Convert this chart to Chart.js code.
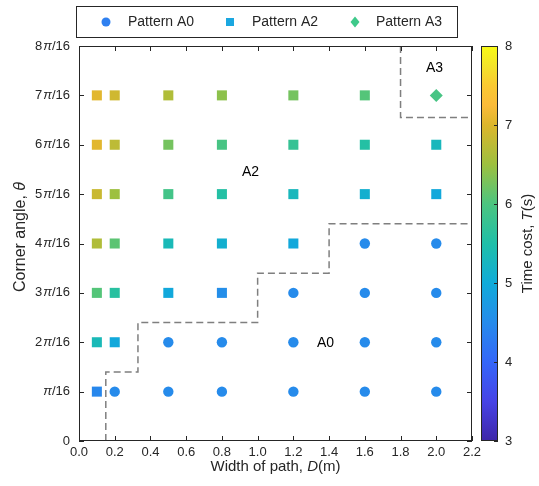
<!DOCTYPE html>
<html>
<head>
<meta charset="utf-8">
<script src="https://cdn.jsdelivr.net/npm/chart.js@4.4.1/dist/chart.umd.min.js"></script>
<style>
  html, body { margin: 0; padding: 0; background: #fff; }
</style>
</head>
<body>
<canvas id="chart" width="539" height="486"></canvas>
<script>
// widths D (m), angles in units of pi/16, time cost T (s)
const a0Width = [0.2, 0.5, 0.8, 1.2, 1.6, 2.0, 0.5, 0.8, 1.2, 1.6, 2.0, 1.2, 1.6, 2.0, 1.6, 2.0];
const a0Angle = [1, 1, 1, 1, 1, 1, 2, 2, 2, 2, 2, 3, 3, 3, 4, 4];
const a0Time  = [4.5, 4.5, 4.5, 4.5, 4.5, 4.5, 4.5, 4.5, 4.5, 4.5, 4.5, 4.5, 4.5, 4.5, 4.5, 4.5];

const a2Width = [0.1,
                 0.1, 0.2,
                 0.1, 0.2, 0.5, 0.8,
                 0.1, 0.2, 0.5, 0.8, 1.2,
                 0.1, 0.2, 0.5, 0.8, 1.2, 1.6, 2.0,
                 0.1, 0.2, 0.5, 0.8, 1.2, 1.6, 2.0,
                 0.1, 0.2, 0.5, 0.8, 1.2, 1.6];
const a2Angle = [1,
                 2, 2,
                 3, 3, 3, 3,
                 4, 4, 4, 4, 4,
                 5, 5, 5, 5, 5, 5, 5,
                 6, 6, 6, 6, 6, 6, 6,
                 7, 7, 7, 7, 7, 7];
const a2Time  = [4.45,
                 5.35, 4.95,
                 6.05, 5.6, 4.95, 4.55,
                 6.65, 6.1, 5.35, 5.1, 4.95,
                 6.85, 6.5, 5.9, 5.55, 5.3, 5.1, 4.95,
                 7.05, 6.75, 6.25, 5.95, 5.75, 5.55, 5.3,
                 7.05, 6.9, 6.65, 6.4, 6.25, 6.05];

const a3Width = [2.0];
const a3Angle = [7];
const a3Time  = [5.95];

// region boundaries
const lowerBoundW = [0.15, 0.15, 0.33, 0.33, 1.0, 1.0, 1.4, 1.4, 2.2];
const lowerBoundA = [0, 1.4, 1.4, 2.4, 2.4, 3.4, 3.4, 4.4, 4.4];
const upperBoundW = [1.8, 1.8, 2.2];
const upperBoundA = [8, 6.55, 6.55];

const regionNames = ['A2', 'A0', 'A3'];
const regionW = [0.96, 1.38, 1.99];
const regionA = [5.45, 1.98, 7.56];

const yTickLabels = ['0', 'π/16', '2π/16', '3π/16', '4π/16', '5π/16', '6π/16', '7π/16', '8π/16'];
const cbTicks = [3, 4, 5, 6, 7, 8];
const cbMin = 3, cbMax = 8;

const legendNames = ['Pattern A0', 'Pattern A2', 'Pattern A3'];
const legendColors = ['#2f80f0', '#1ba7e0', '#3ec98a'];

const FONT = '"Liberation Sans", Arial, Helvetica, sans-serif';
const INK = '#262626';

// parula-like colormap
const parula = [
  [0.00, '#3e26a8'], [0.10, '#4743e6'], [0.20, '#3466f9'], [0.30, '#268beb'],
  [0.40, '#10abd9'], [0.50, '#1fbfa8'], [0.60, '#4cc580'], [0.70, '#9dc03f'],
  [0.80, '#dcb62c'], [0.85, '#fbbb3a'], [0.90, '#fac932'], [0.95, '#f3e42a'],
  [1.00, '#f9fb15']
];
function hexRgb(h) { return [1, 3, 5].map(i => parseInt(h.substr(i, 2), 16)); }
function colorFor(T) {
  const t = Math.min(1, Math.max(0, (T - cbMin) / (cbMax - cbMin)));
  for (let i = 1; i < parula.length; i++) {
    if (t <= parula[i][0]) {
      const [t0, c0] = parula[i - 1], [t1, c1] = parula[i];
      const f = (t - t0) / (t1 - t0);
      const a = hexRgb(c0), b = hexRgb(c1);
      return 'rgb(' + a.map((v, k) => Math.round(v + (b[k] - v) * f)).join(',') + ')';
    }
  }
  return parula[parula.length - 1][1];
}

const pts = (w, a) => w.map((x, i) => ({ x: x, y: a[i] }));

function richText(ctx, parts, x, y, size) {
  let total = 0;
  const widths = parts.map(p => {
    ctx.font = (p[1] ? 'italic ' : '') + size + 'px ' + FONT;
    const w = ctx.measureText(p[0]).width;
    total += w;
    return w;
  });
  let cx = x - total / 2;
  ctx.textAlign = 'left';
  parts.forEach((p, i) => {
    ctx.font = (p[1] ? 'italic ' : '') + size + 'px ' + FONT;
    ctx.fillText(p[0], cx, y);
    cx += widths[i];
  });
}

const decorations = {
  id: 'decorations',
  afterDatasetsDraw(chart) {
    const ctx = chart.ctx, a = chart.chartArea;
    const xs = chart.scales.x, ys = chart.scales.y;
    ctx.save();
    // region labels
    ctx.fillStyle = '#000';
    ctx.font = '14px ' + FONT;
    ctx.textAlign = 'center';
    ctx.textBaseline = 'middle';
    regionNames.forEach((n, i) => {
      ctx.fillText(n, xs.getPixelForValue(regionW[i]), ys.getPixelForValue(regionA[i]));
    });
    // frame
    ctx.strokeStyle = INK;
    ctx.lineWidth = 1;
    ctx.strokeRect(a.left + 0.5, a.top + 0.5, a.right - a.left - 1, a.bottom - a.top - 1);
    // inward ticks
    ctx.beginPath();
    xs.ticks.forEach(t => {
      const px = Math.round(xs.getPixelForValue(t.value)) + 0.5;
      ctx.moveTo(px, a.bottom); ctx.lineTo(px, a.bottom - 5);
      ctx.moveTo(px, a.top); ctx.lineTo(px, a.top + 5);
    });
    ys.ticks.forEach(t => {
      const py = Math.round(ys.getPixelForValue(t.value)) + 0.5;
      ctx.moveTo(a.left, py); ctx.lineTo(a.left + 5, py);
      ctx.moveTo(a.right, py); ctx.lineTo(a.right - 5, py);
    });
    ctx.stroke();
    // y tick labels with italic pi
    ctx.fillStyle = INK;
    ctx.textBaseline = 'middle';
    yTickLabels.forEach((lab, v) => {
      const py = ys.getPixelForValue(v);
      const parts = lab.split('π');
      let x = a.left - 9;
      ctx.textAlign = 'right';
      for (let k = parts.length - 1; k >= 0; k--) {
        ctx.font = '13px ' + FONT;
        ctx.fillText(parts[k], x, py);
        x -= ctx.measureText(parts[k]).width;
        if (k > 0) {
          ctx.font = 'italic 13px ' + FONT;
          ctx.fillText('π', x, py);
          x -= ctx.measureText('π').width + 1;
        }
      }
    });
    ctx.restore();
  },
  afterDraw(chart) {
    const ctx = chart.ctx, a = chart.chartArea;
    ctx.save();
    ctx.fillStyle = INK;
    ctx.textBaseline = 'alphabetic';
    // axis titles
    richText(ctx, [['Width of path, ', false], ['D', true], ['(m)', false]], (a.left + a.right) / 2, 471, 15);
    ctx.save();
    ctx.translate(25, 237);
    ctx.rotate(-Math.PI / 2);
    richText(ctx, [['Corner angle, ', false], ['θ', true]], 0, 0, 16);
    ctx.restore();

    // colorbar
    const cbL = 481, cbR = 498, cbT = a.top, cbB = a.bottom;
    const g = ctx.createLinearGradient(0, cbB, 0, cbT);
    parula.forEach(s => g.addColorStop(s[0], s[1]));
    ctx.fillStyle = g;
    ctx.fillRect(cbL, cbT, cbR - cbL, cbB - cbT);
    ctx.strokeStyle = INK;
    ctx.lineWidth = 1;
    ctx.strokeRect(cbL + 0.5, cbT + 0.5, cbR - cbL - 1, cbB - cbT - 1);
    ctx.fillStyle = INK;
    ctx.font = '13px ' + FONT;
    ctx.textAlign = 'left';
    ctx.textBaseline = 'middle';
    ctx.beginPath();
    cbTicks.forEach(v => {
      const py = cbB - (v - cbMin) / (cbMax - cbMin) * (cbB - cbT);
      ctx.moveTo(cbR, Math.round(py) + 0.5); ctx.lineTo(cbR - 4, Math.round(py) + 0.5);
      ctx.fillText(String(v), 505, py);
    });
    ctx.stroke();
    ctx.save();
    ctx.translate(532, (cbT + cbB) / 2);
    ctx.rotate(-Math.PI / 2);
    ctx.textBaseline = 'alphabetic';
    richText(ctx, [['Time cost, ', false], ['T', true], ['(s)', false]], 0, 0, 15);
    ctx.restore();

    // legend box
    ctx.fillStyle = '#fff';
    ctx.fillRect(76, 6, 381, 31);
    ctx.strokeStyle = INK;
    ctx.strokeRect(76.5, 6.5, 381, 31);
    const ly = 22;
    const markX = [106, 230, 355];
    const textX = [128, 252, 376];
    legendNames.forEach((n, i) => {
      ctx.fillStyle = legendColors[i];
      ctx.beginPath();
      if (i === 0) ctx.arc(markX[i], ly, 4.5, 0, Math.PI * 2);
      else if (i === 1) ctx.rect(markX[i] - 4, ly - 4, 8, 8);
      else { ctx.moveTo(markX[i], ly - 5.5); ctx.lineTo(markX[i] + 4.5, ly); ctx.lineTo(markX[i], ly + 5.5); ctx.lineTo(markX[i] - 4.5, ly); ctx.closePath(); }
      ctx.fill();
      ctx.fillStyle = INK;
      ctx.font = '14px ' + FONT;
      ctx.textAlign = 'left';
      ctx.textBaseline = 'middle';
      ctx.fillText(n, textX[i], ly);
    });
    ctx.restore();
  }
};

const a0Colors = a0Time.map(colorFor);
const a2Colors = a2Time.map(colorFor);
const a3Colors = a3Time.map(colorFor);

new Chart(document.getElementById('chart'), {
  type: 'scatter',
  data: {
    datasets: [
      {
        label: 'Pattern A0', data: pts(a0Width, a0Angle),
        pointStyle: 'circle', pointRadius: 5.2, pointBorderWidth: 0,
        pointBackgroundColor: a0Colors, pointBorderColor: a0Colors
      },
      {
        label: 'Pattern A2', data: pts(a2Width, a2Angle),
        pointStyle: 'rect', pointRadius: 7.1, pointBorderWidth: 0,
        pointBackgroundColor: a2Colors, pointBorderColor: a2Colors
      },
      {
        label: 'Pattern A3', data: pts(a3Width, a3Angle),
        pointStyle: 'rectRot', pointRadius: 6.5, pointBorderWidth: 0,
        pointBackgroundColor: a3Colors, pointBorderColor: a3Colors
      },
      {
        label: 'lower boundary', data: pts(lowerBoundW, lowerBoundA),
        showLine: true, pointRadius: 0, borderColor: '#7f7f7f', borderWidth: 1.5,
        borderDash: [7, 4], fill: false
      },
      {
        label: 'upper boundary', data: pts(upperBoundW, upperBoundA),
        showLine: true, pointRadius: 0, borderColor: '#7f7f7f', borderWidth: 1.5,
        borderDash: [7, 4], fill: false
      }
    ]
  },
  options: {
    responsive: false,
    animation: false,
    events: [],
    layout: { padding: { top: 46, right: 67, left: 0, bottom: 0 } },
    plugins: { legend: { display: false }, tooltip: { enabled: false } },
    scales: {
      x: {
        type: 'linear', min: 0, max: 2.2,
        ticks: {
          stepSize: 0.2, autoSkip: false, maxRotation: 0, padding: 4, color: INK,
          font: { family: FONT, size: 13 },
          callback: v => v.toFixed(1)
        },
        grid: { display: false, drawTicks: false },
        border: { display: false },
        afterFit: s => { s.height = 45; }
      },
      y: {
        type: 'linear', min: 0, max: 8,
        ticks: { stepSize: 1, display: false },
        grid: { display: false, drawTicks: false },
        border: { display: false },
        afterFit: s => { s.width = 79; }
      }
    }
  },
  plugins: [decorations]
});
</script>
</body>
</html>
